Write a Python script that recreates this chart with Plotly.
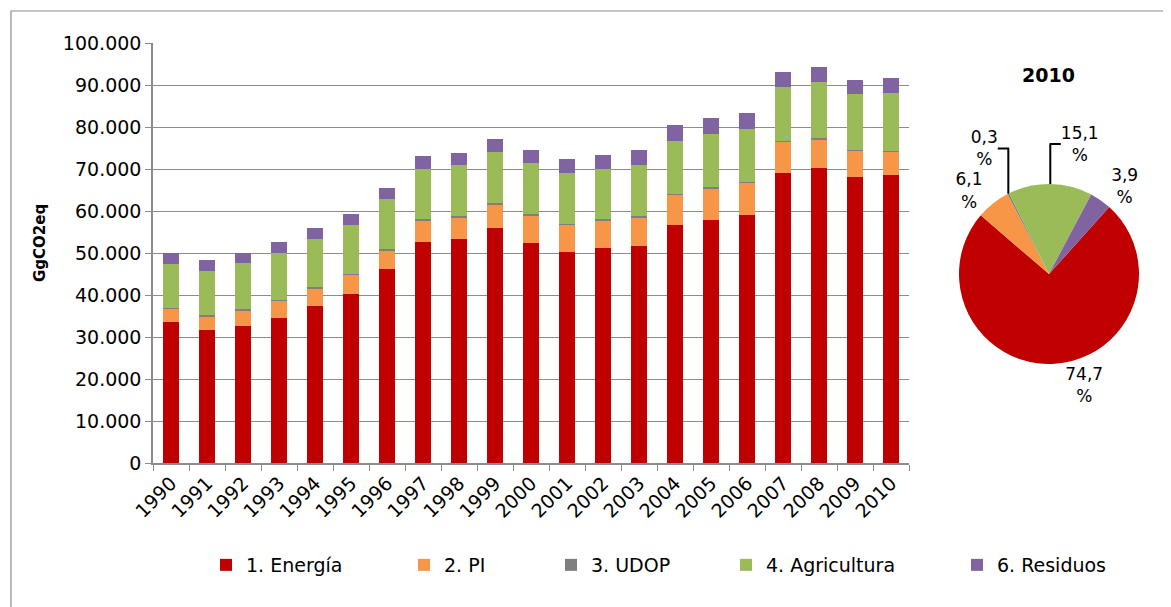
import plotly.graph_objects as go

years = [str(y) for y in range(1990, 2011)]
series_names = ["1. Energía", "2. PI", "3. UDOP", "4. Agricultura", "6. Residuos"]
energia = [33500, 31700, 32700, 34600, 37400, 40350, 46100, 52700, 53240, 55860, 52380,
           50310, 51100, 51740, 56570, 57930, 58960, 68950, 70140, 68100, 68480]
pi = [3200, 3200, 3650, 3980, 4170, 4420, 4450, 5050, 5170, 5640, 6580,
      6360, 6600, 6830, 7240, 7450, 7710, 7480, 7000, 6190, 5570]
udop = [310, 300, 300, 300, 300, 300, 300, 290, 290, 290, 290,
        290, 290, 280, 280, 280, 280, 280, 280, 280, 280]
agricultura = [10450, 10580, 10990, 11200, 11500, 11600, 11900, 12000, 12250, 12250, 12170,
               12080, 12080, 11990, 12630, 12560, 12630, 12700, 13270, 13180, 13840]
residuos = [2550, 2450, 2380, 2620, 2620, 2690, 2790, 3020, 2930, 3170, 3170,
            3330, 3260, 3570, 3640, 3900, 3810, 3570, 3480, 3330, 3570]
pie_pct_2010 = [74.7, 6.1, 0.3, 15.1, 3.9]
colors = ["#C00000", "#F79646", "#7F7F7F", "#9BBB59", "#8064A2"]
y_ticks = list(range(0, 100001, 10000))

FONT = "DejaVu Sans"
W, H = 1171, 607
OFF = 8  # page body margin
ML, MR, MT, MB = 145, 2, 35, 152
PW, PH = W - ML - MR, H - MT - MB

def px_x(p):
    return (p - OFF - ML) / PW

def px_y(p):
    return (H - MB - (p - OFF)) / PH

fig = go.Figure()
legend_ids = ["legend", "legend2", "legend3", "legend4", "legend5"]
for name, vals, col, lg in zip(series_names, [energia, pi, udop, agricultura, residuos], colors, legend_ids):
    fig.add_trace(go.Bar(x=years, y=vals, name=name, marker=dict(color=col, line=dict(width=0)),
                         legend=lg))

fig.add_trace(go.Pie(labels=series_names, values=pie_pct_2010, sort=False, direction="clockwise",
                     rotation=42, marker=dict(colors=colors, line=dict(width=0)),
                     texttemplate="%{value:.1f}<br>%", textposition="outside",
                     textfont=dict(family=FONT, size=17, color="#000"),
                     showlegend=False, hoverinfo="label+value",
                     domain=dict(x=[px_x(1049 - 90), px_x(1049 + 90)], y=[px_y(274 + 90), px_y(274 - 90)])))

layout_legends = {}
text_starts = [246, 444, 591, 766, 997]
for lg, ts in zip(legend_ids, text_starts):
    layout_legends[lg] = dict(x=px_x(ts - 40), y=px_y(565), xanchor="left", yanchor="middle",
                              orientation="h", font=dict(family=FONT, size=19, color="#000"),
                              bgcolor="rgba(0,0,0,0)")

fig.update_layout(
    width=W, height=H,
    margin=dict(l=ML, r=MR, t=MT, b=MB),
    barmode="stack", bargap=0.58,
    separators=",.",
    paper_bgcolor="white", plot_bgcolor="white",
    font=dict(family=FONT, size=19, color="#000"),
    xaxis=dict(domain=[0, px_x(909)], type="category", tickangle=-45,
               showline=True, linecolor="#8C8C8C", linewidth=1.5,
               ticks="outside", tickson="boundaries", ticklen=6, tickcolor="#8C8C8C",
               tickfont=dict(family=FONT, size=19, color="#000"), showgrid=False),
    yaxis=dict(range=[0, 100000], tickvals=y_ticks, tickformat=",d",
               showline=True, linecolor="#8C8C8C", linewidth=1.5,
               ticks="outside", ticklen=6, tickcolor="#8C8C8C",
               gridcolor="#8C8C8C", gridwidth=1.3, zeroline=False,
               tickfont=dict(family=FONT, size=19, color="#000")),
    annotations=[
        dict(text="<b>GgCO2eq</b>", textangle=-90, xref="paper", yref="paper",
             x=px_x(40), y=px_y(243), xanchor="center", yanchor="middle",
             showarrow=False, font=dict(family=FONT, size=15, color="#000")),
        dict(text="<b>2010</b>", xref="paper", yref="paper", x=px_x(1048), y=px_y(75),
             xanchor="center", yanchor="middle",
             showarrow=False, font=dict(family=FONT, size=19, color="#000")),
    ],
    shapes=[dict(type="rect", xref="paper", yref="paper", x0=px_x(11), x1=px_x(1185),
                 y0=px_y(625), y1=px_y(11), line=dict(color="#8C8C8C", width=1.2),
                 fillcolor="rgba(0,0,0,0)", layer="below")],
    **layout_legends,
)

fig.write_html("out.html")
